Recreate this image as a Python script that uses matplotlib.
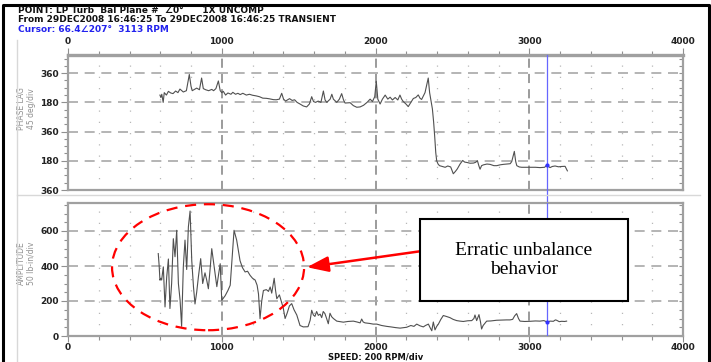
import matplotlib
matplotlib.use("Agg")
import matplotlib.pyplot as plt
from matplotlib.ticker import MultipleLocator, FixedLocator
from matplotlib.patches import Ellipse, Rectangle
from matplotlib.lines import Line2D

# phase trace: speed (RPM) and unwrapped plot position (deg, 0 = bottom "360")
phase_rpm = [598, 604, 610, 619, 626, 640, 653, 668, 683, 700, 715, 728, 750, 770, 789, 800,
             808, 837, 855, 869, 880, 895, 915, 935, 947, 962, 978, 990, 1000, 1010, 1025,
             1040, 1060, 1072, 1090, 1105, 1120, 1137, 1160, 1180, 1200, 1224, 1245, 1267,
             1290, 1310, 1335, 1354, 1375, 1390, 1402, 1415, 1441, 1458, 1474, 1490, 1509,
             1530, 1552, 1570, 1585, 1597, 1610, 1627, 1645, 1661, 1672, 1683, 1705, 1716,
             1726, 1748, 1765, 1780, 1792, 1802, 1835, 1856, 1878, 1900, 1922, 1945, 1965,
             1980, 1995, 2005, 2015, 2030, 2045, 2063, 2080, 2095, 2110, 2128, 2145, 2159,
             2170, 2180, 2198, 2213, 2230, 2246, 2262, 2278, 2290, 2300, 2322, 2343, 2352,
             2360, 2370, 2378, 2385, 2392, 2398, 2407, 2416, 2435, 2453, 2470, 2489, 2506,
             2520, 2532, 2550, 2567, 2580, 2593, 2615, 2637, 2650, 2663, 2672, 2680, 2690,
             2702, 2725, 2745, 2770, 2789, 2810, 2832, 2855, 2876, 2886, 2903, 2912, 2919,
             2935, 2951, 2980, 3005, 3040, 3070, 3100, 3113, 3125, 3135, 3150, 3168, 3190,
             3211, 3233, 3248]
phase_pos = [585, 570, 590, 540, 600, 585, 608, 598, 594, 610, 600, 622, 604, 612, 712, 640,
             612, 628, 618, 690, 625, 618, 612, 620, 612, 625, 672, 612, 600, 608, 585,
             598, 590, 602, 590, 596, 588, 596, 585, 590, 584, 580, 575, 566,
             565, 562, 557, 556, 560, 596, 560, 548, 563, 552, 556, 540, 530,
             518, 512, 530, 575, 545, 540, 548, 540, 610, 555, 540, 560, 590,
             560, 540, 560, 594, 555, 536, 538, 520, 510, 512, 522, 540, 560,
             545, 575, 670, 560, 530, 560, 585, 560, 572, 555, 570, 555, 585,
             560, 546, 530, 514, 540, 564, 570, 586, 565, 558, 600, 690, 600,
             556, 500, 420, 330, 230, 180, 160, 150, 145, 140, 148, 142, 100,
             115, 130, 160, 182, 172, 170, 165, 166, 170, 180, 150, 128, 150,
             155, 160, 158, 150, 150, 155, 158, 160, 162, 175, 238, 175, 150,
             142, 140, 140, 140, 140, 138, 140, 153, 145, 138, 145, 148, 143,
             145, 146, 118]

# amplitude trace (lb-in)
amp_rpm = [587, 593, 598, 604, 609, 620, 631, 642, 653, 663, 674, 685, 696, 707, 718, 729,
           739, 750, 761, 772, 783, 794, 805, 816, 826, 837, 848, 863, 876, 891, 902, 913,
           924, 935, 950, 968, 979, 990, 1000, 1022, 1040, 1055, 1068, 1080, 1097, 1119,
           1135, 1152, 1168, 1184, 1200, 1217, 1230, 1239, 1249, 1260, 1271, 1290, 1304,
           1315, 1325, 1341, 1350, 1358, 1375, 1390, 1400, 1412, 1425, 1440, 1455, 1470,
           1488, 1509, 1530, 1561, 1575, 1585, 1596, 1606, 1617, 1628, 1640, 1650, 1660,
           1671, 1682, 1693, 1704, 1715, 1726, 1748, 1770, 1791, 1820, 1856, 1880, 1900,
           1910, 1920, 1932, 1960, 1985, 2008, 2040, 2073, 2100, 2130, 2160, 2185, 2203,
           2230, 2250, 2268, 2290, 2311, 2325, 2344, 2355, 2366, 2376, 2387, 2398, 2409,
           2425, 2441, 2460, 2484, 2505, 2528, 2550, 2571, 2600, 2626, 2640, 2647, 2658,
           2673, 2683, 2690, 2700, 2723, 2750, 2788, 2820, 2853, 2875, 2892, 2905, 2918,
           2930, 2940, 2970, 3005, 3040, 3070, 3095, 3117, 3135, 3157, 3170, 3178, 3195,
           3211, 3230, 3243]
amp_val = [471, 400, 319, 330, 320, 395, 166, 337, 440, 157, 300, 556, 453, 604, 300, 205,
           55, 394, 548, 380, 624, 714, 430, 282, 183, 250, 337, 442, 300, 361, 320, 270,
           380, 499, 400, 282, 350, 413, 204, 230, 260, 290, 450, 604, 548, 430,
           390, 366, 370, 347, 330, 320, 290, 240, 99, 200, 260, 265, 255,
           280, 245, 330, 260, 213, 235, 190, 160, 100, 130, 172, 185, 150,
           120, 60, 52, 53, 90, 147, 120, 112, 140, 118, 125, 105, 140,
           128, 100, 70, 130, 110, 100, 85, 82, 79, 83, 85, 80, 75,
           97, 80, 75, 72, 68, 68, 60, 55, 52, 48, 45, 48, 50,
           60, 55, 68, 58, 52, 60, 68, 48, 30, 80, 35, 55, 68,
           95, 117, 112, 105, 95, 88, 85, 83, 87, 88, 100, 120, 88,
           122, 80, 40, 60, 85, 86, 90, 91, 92, 92, 95, 115, 128,
           100, 85, 83, 84, 86, 85, 88, 80, 85, 84, 92, 90, 82,
           84, 83, 85]

phase_ticks = [0, 180, 360, 540, 720]
phase_labels = ["360", "180", "360", "180", "360"]
amp_ticks = [0, 200, 400, 600]
speed_ticks = [0, 1000, 2000, 3000, 4000]
cursor_rpm = 3113

W, H = 711, 362
TICKFONT = ["Liberation Sans Narrow", "DejaVu Sans"]
plt.rcParams["font.family"] = TICKFONT

fig = plt.figure(figsize=(W / 100, H / 100), dpi=100)


def rect(left, top, right, bottom):
    return [left / W, 1 - bottom / H, (right - left) / W, (bottom - top) / H]


ax1 = fig.add_axes(rect(68, 55, 683, 190))
ax2 = fig.add_axes(rect(68, 203, 683, 336))

spine_col = "#a0a0a0"
for ax in (ax1, ax2):
    ax.set_xlim(0, 4000)
    ax.xaxis.set_major_locator(FixedLocator(speed_ticks))
    ax.xaxis.set_minor_locator(MultipleLocator(200))
    for s in ax.spines.values():
        s.set_color(spine_col)
        s.set_linewidth(1.6)
    ax.xaxis.grid(True, which="major", linestyle=(0, (6, 4)), color="#808080", lw=1.1)
    ax.xaxis.grid(True, which="minor", linestyle=(0, (1, 8)), color="#b8b8b8", lw=0.9)
    ax.yaxis.grid(True, which="major", linestyle=(0, (6, 4)), color="#a8a8a8", lw=1.2)
    ax.tick_params(axis="both", which="both", colors="#909090", labelcolor="#222222",
                   labelsize=6.5, direction="out", width=0.8)
    ax.tick_params(axis="both", which="major", length=5, pad=1.5)
    ax.tick_params(axis="both", which="minor", length=3)
ax1.spines["top"].set_linewidth(2.4)

# phase panel
ax1.set_ylim(0, 832)
ax1.yaxis.set_major_locator(FixedLocator(phase_ticks))
ax1.set_yticklabels(phase_labels, fontweight="bold")
ax1.yaxis.set_minor_locator(MultipleLocator(45))
ax1.xaxis.tick_top()
ax1.set_xticklabels([str(t) for t in speed_ticks], fontweight="bold")
ax1.plot(phase_rpm, phase_pos, color="#505050", lw=0.8, zorder=3)
ax1.axvline(cursor_rpm, ymin=-0.1, ymax=1, color="#6666ff", lw=0.9, clip_on=False, zorder=4)
ax1.plot([cursor_rpm], [153], marker="o", ms=2, color="#3333ff", zorder=5)
ax1.text(-0.068, 0.6, "PHASE LAG\n45 deg/div", transform=ax1.transAxes, rotation=90,
         ha="center", va="center", fontsize=5.5, color="#909090", linespacing=1.1)

# amplitude panel
ax2.set_ylim(0, 760)
ax2.yaxis.set_major_locator(FixedLocator(amp_ticks))
ax2.yaxis.set_minor_locator(MultipleLocator(50))
ax2.set_yticklabels([str(t) for t in amp_ticks], fontweight="bold")
ax2.set_xticklabels([str(t) for t in speed_ticks], fontweight="bold")
ax2.tick_params(axis="x", which="major", length=4, pad=0.8)
ax2.plot(amp_rpm, amp_val, color="#505050", lw=0.8, zorder=3)
ax2.axvline(cursor_rpm, color="#6666ff", lw=0.9, zorder=4)
ax2.plot([cursor_rpm], [78], marker="o", ms=2, color="#3333ff", zorder=5)
ax2.text(-0.068, 0.55, "AMPLITUDE\n50 lb-in/div", transform=ax2.transAxes, rotation=90,
         ha="center", va="center", fontsize=5.5, color="#909090", linespacing=1.1)

# right-side inward ticks
for ax, step in ((ax1, 45), (ax2, 50)):
    sec = ax.secondary_yaxis("right")
    sec.yaxis.set_major_locator(MultipleLocator(step))
    sec.tick_params(which="major", direction="in", length=3, width=0.8, colors="#909090",
                    labelright=False)
    sec.spines["right"].set_visible(False)

# annotation
ax2.add_patch(Ellipse((911, 393), 1249, 720, fill=False, edgecolor="#ff0000", lw=1.6,
                      linestyle=(0, (5, 3.5)), zorder=6))
ax2.annotate("", xy=(1554, 393), xytext=(2289, 484),
             arrowprops=dict(arrowstyle="-|>,head_length=1.3,head_width=0.47",
                             mutation_scale=10, color="#ff0000", lw=1.8,
                             shrinkA=0, shrinkB=0), zorder=6)
ax2.add_patch(Rectangle((2289, 198), 1353, 469, facecolor="white", edgecolor="black",
                        lw=1.5, zorder=7))
ax2.text(2289 + 1353 / 2, 198 + 469 / 2, "Erratic unbalance\nbehavior",
         family="Liberation Serif", fontsize=14, ha="center", va="center",
         linespacing=1.15, zorder=8)

# header text
hdr = dict(fontsize=6.5, fontweight="bold", ha="left", va="center")
fig.text(18 / W, 1 - 10.5 / H, "POINT: LP Turb  Bal Plane #  \u22200\u00b0      1X UNCOMP",
         color="#111111", **hdr)
fig.text(18 / W, 1 - 20 / H, "From 29DEC2008 16:46:25 To 29DEC2008 16:46:25 TRANSIENT",
         color="#111111", **hdr)
fig.text(18 / W, 1 - 30 / H, "Cursor: 66.4\u2220207\u00b0  3113 RPM", color="#2222ee", **hdr)
fig.text(376 / W, 0.5 / H, "SPEED: 200 RPM/div", fontsize=6, fontweight="bold",
         ha="center", va="bottom", color="#111111")

# frame lines
fig.add_artist(Line2D([17 / W, 17 / W], [1 - 40 / H, 0], color="#d8d8d8", lw=1))
fig.add_artist(Line2D([17 / W, 700 / W], [1 - 195 / H, 1 - 195 / H], color="#d8d8d8", lw=1))
fig.add_artist(Line2D([3 / W, 3 / W, 709 / W, 709 / W], [0, 1 - 5 / H, 1 - 5 / H, 0],
                      color="black", lw=2.2))

fig.savefig("out.png", dpi=100)
